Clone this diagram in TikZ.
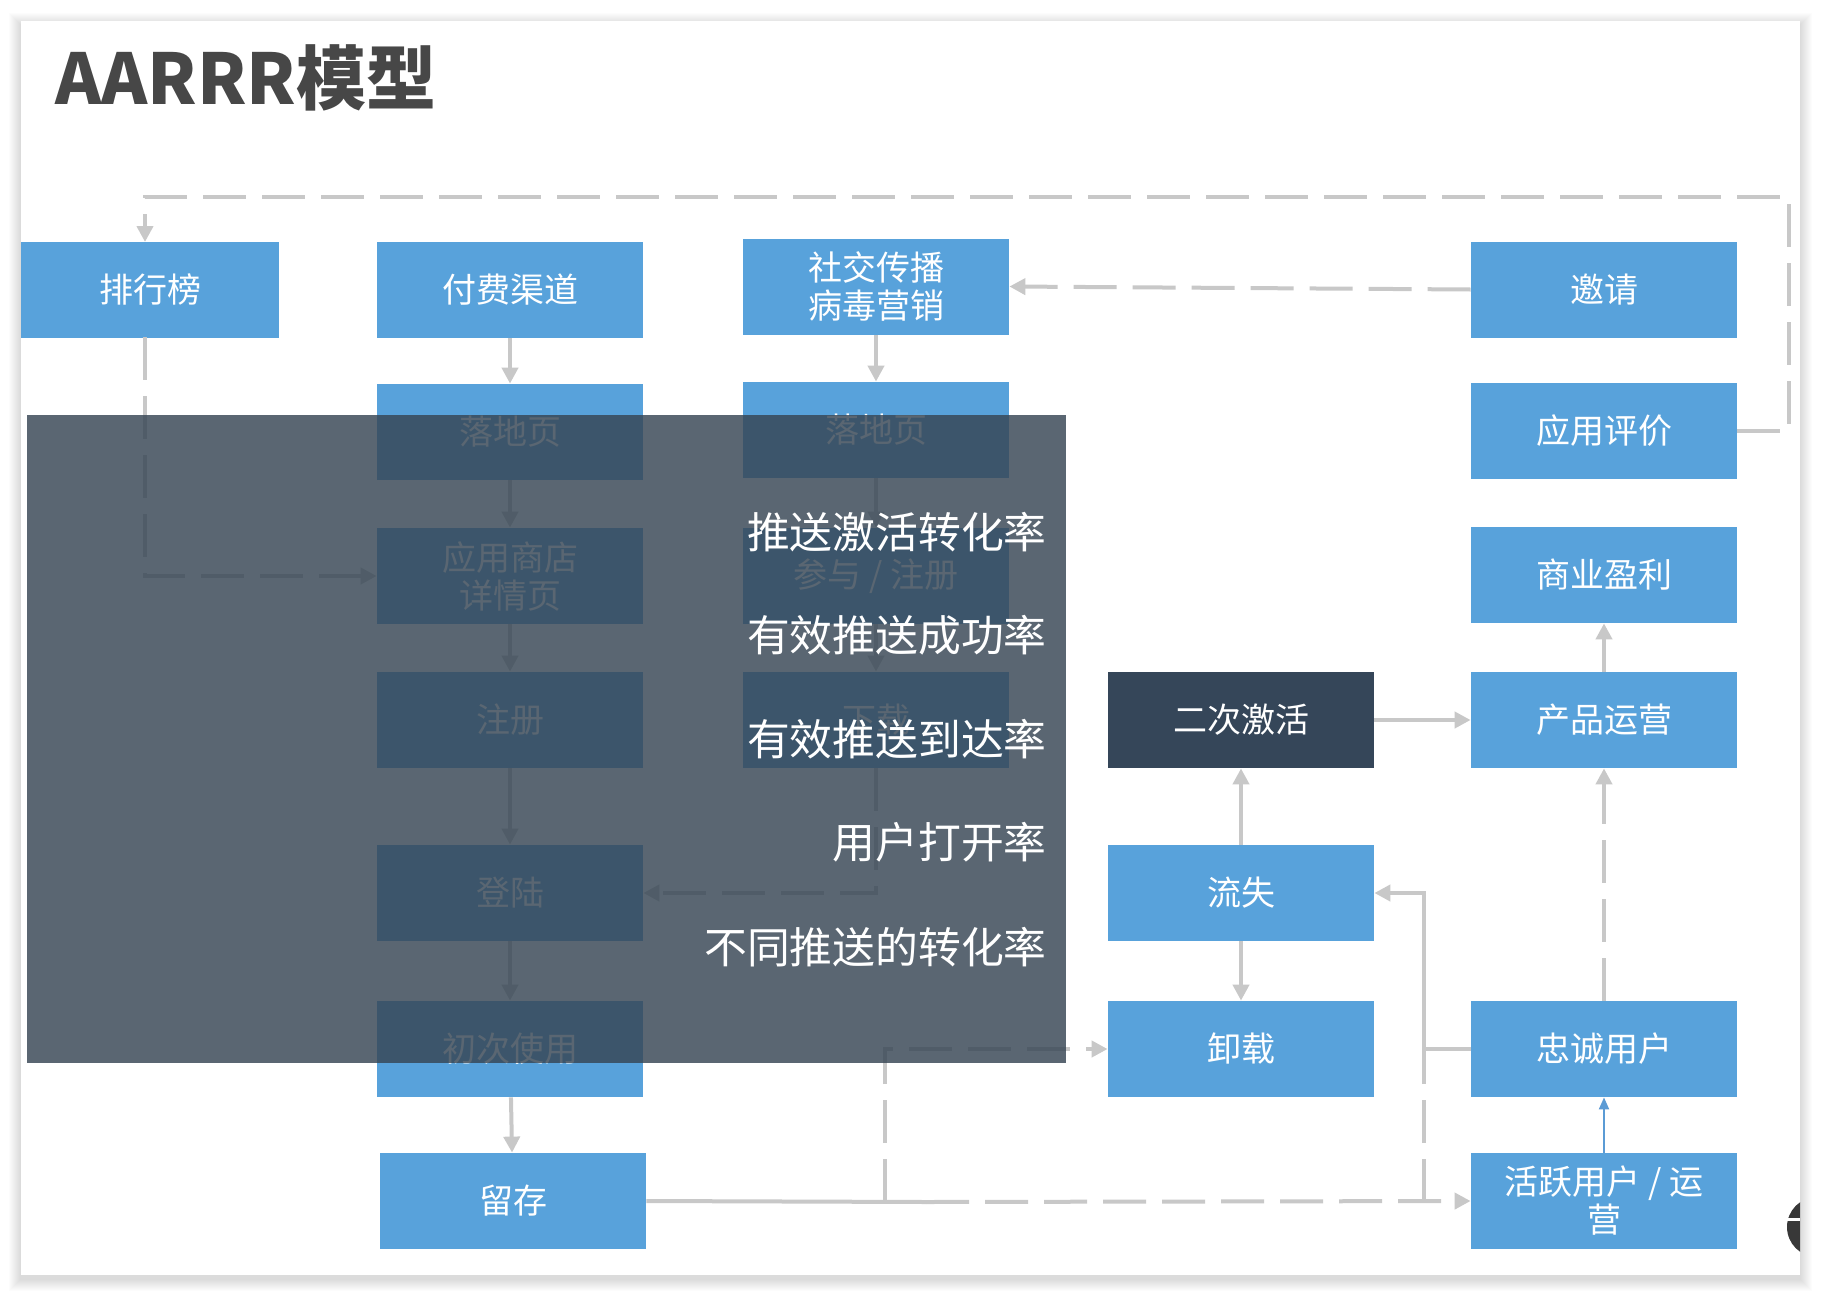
\documentclass[tikz,border=0pt]{standalone}
\usepackage{fontspec}
\setmainfont{Noto Sans CJK SC}
\usetikzlibrary{arrows.meta, positioning}
\usepackage{xcolor}
\definecolor{azulcaja}{HTML}{58A2DB}
\definecolor{oscuro}{HTML}{354659}
\definecolor{velo}{HTML}{364553}
\definecolor{gris}{HTML}{C8C8C8}
\definecolor{titulo}{HTML}{474747}
\definecolor{azulflecha}{HTML}{5B9BD5}
\tikzset{
  caja/.style={rectangle, fill=azulcaja, text=white, minimum width=133pt,
               minimum height=48pt, inner sep=0pt, align=center,
               font=\fontsize{17pt}{19pt}\selectfont},
  cajaosc/.style={caja, fill=oscuro},
  flecha/.style={-{Triangle[length=8pt, width=8pt]}, line width=2pt, draw=gris},
  linea/.style={line width=2pt, draw=gris},
  discont/.style={dash pattern=on 21.5pt off 8pt},
  tasa/.style={anchor=east, inner sep=0pt, text=white,
               font=\fontsize{21.4pt}{24pt}\selectfont}
}

\begin{document}
\begin{tikzpicture}[x=0.5pt, y=-0.5pt]
  % ── Fondo, sombra y hoja ──
  \useasboundingbox (0,0) rectangle (1821,1296);
  \fill[white] (0,0) rectangle (1821,1296);
  \foreach \i in {1,...,12}
    \fill[black, opacity=0.012] (21-\i,21-\i+4) rectangle (1800+\i,1275+\i+4);
  \fill[white] (21,21) rectangle (1800,1275);
  \begin{scope}
    \clip (21,21) rectangle (1800,1275);
    \fill[black!78] (1817,1227) circle (30);
    \fill[white] (1780,1218) rectangle (1800,1221);
  \end{scope}

  \node[anchor=west, inner sep=0pt, text=titulo,
        font=\fontsize{35pt}{38pt}\selectfont\bfseries] (titulo) at (55,78) {AARRR模型};

  % ── Cajas ──
  \node[caja, minimum width=129pt] (ranking) at (150,289.5) {排行榜};
  \node[caja] (pago)      at (510,289.5)  {付费渠道};
  \node[caja] (social)    at (876,286.5)  {社交传播\\病毒营销};
  \node[caja] (invitar)   at (1604,289.5) {邀请};
  \node[caja] (aterriza1) at (510,432)    {落地页};
  \node[caja] (aterriza2) at (876,430)    {落地页};
  \node[caja] (resena)    at (1604,431)   {应用评价};
  \node[caja] (tienda)    at (510,576)    {应用商店\\详情页};
  \node[caja] (participa) at (876,576)    {参与 / 注册};
  \node[caja] (lucro)     at (1604,575)   {商业盈利};
  \node[caja] (registro)  at (510,720)    {注册};
  \node[caja] (descarga)  at (876,720)    {下载};
  \node[cajaosc] (reactiva)  at (1241,720) {二次激活};
  \node[caja] (operacion) at (1604,720)   {产品运营};
  \node[caja] (login)     at (510,893)    {登陆};
  \node[caja] (perdida)   at (1241,893)   {流失};
  \node[caja] (primero)   at (510,1049)   {初次使用};
  \node[caja] (desinst)   at (1241,1049)  {卸载};
  \node[caja] (leal)      at (1604,1049)  {忠诚用户};
  \node[caja] (retencion) at (513,1201)   {留存};
  \node[caja] (activo)    at (1604,1201)  {活跃用户 / 运\\营};

  \coordinate (esquina) at (1789,197);
  \coordinate (rankarr) at (145,242);
  \coordinate (rankab)  at (145,337);
  \coordinate (cruce0)  at (926,1202);
  \coordinate (cruce1)  at (885,1202);
  \coordinate (cruce2)  at (1424,1049);
  \coordinate (cruce3)  at (1424,1202);

  % ── Flechas ──
  \draw[flecha, discont] (resena.east) -| (esquina) -| (rankarr);
  \draw[flecha, discont] (rankab) |- (tienda.west);
  \draw[flecha, discont] (invitar.west) -- (social.east);
  \draw[flecha] (pago)      -- (aterriza1);
  \draw[flecha] (aterriza1) -- (tienda);
  \draw[flecha] (tienda)    -- (registro);
  \draw[flecha] (registro)  -- (login);
  \draw[flecha] (login)     -- (primero);
  \draw[flecha] (primero)   -- (retencion);
  \draw[flecha] (social)    -- (aterriza2);
  \draw[flecha] (aterriza2) -- (participa);
  \draw[flecha] (participa) -- (descarga);
  \draw[flecha, discont] (descarga.south) |- (login.east);
  \draw[linea] (retencion.east) -- (cruce0);
  \draw[flecha, discont] (cruce0) -- (activo.west);
  \draw[flecha, discont] (cruce1) |- (desinst.west);
  \draw[linea, discont] (cruce3) -- (cruce2);
  \draw[flecha] (leal.west) -- (cruce2) |- (perdida.east);
  \draw[flecha] (perdida) -- (desinst);
  \draw[flecha] (perdida) -- (reactiva);
  \draw[flecha] (reactiva) -- (operacion);
  \draw[flecha] (operacion) -- (lucro);
  \draw[flecha, discont] (leal) -- (operacion);
  \draw[-{Triangle[length=6pt, width=5pt]}, line width=1pt, draw=azulflecha]
        (activo) -- (leal);

  % ── Velo con tasas de push ──
  \fill[velo, opacity=0.82] (27,415) rectangle (1066,1063);
  \node[tasa] (tasa1) at (1047,532) {推送激活转化率};
  \node[tasa] (tasa2) at (1047,635) {有效推送成功率};
  \node[tasa] (tasa3) at (1047,739) {有效推送到达率};
  \node[tasa] (tasa4) at (1047,842) {用户打开率};
  \node[tasa] (tasa5) at (1047,947) {不同推送的转化率};
\end{tikzpicture}
\end{document}
